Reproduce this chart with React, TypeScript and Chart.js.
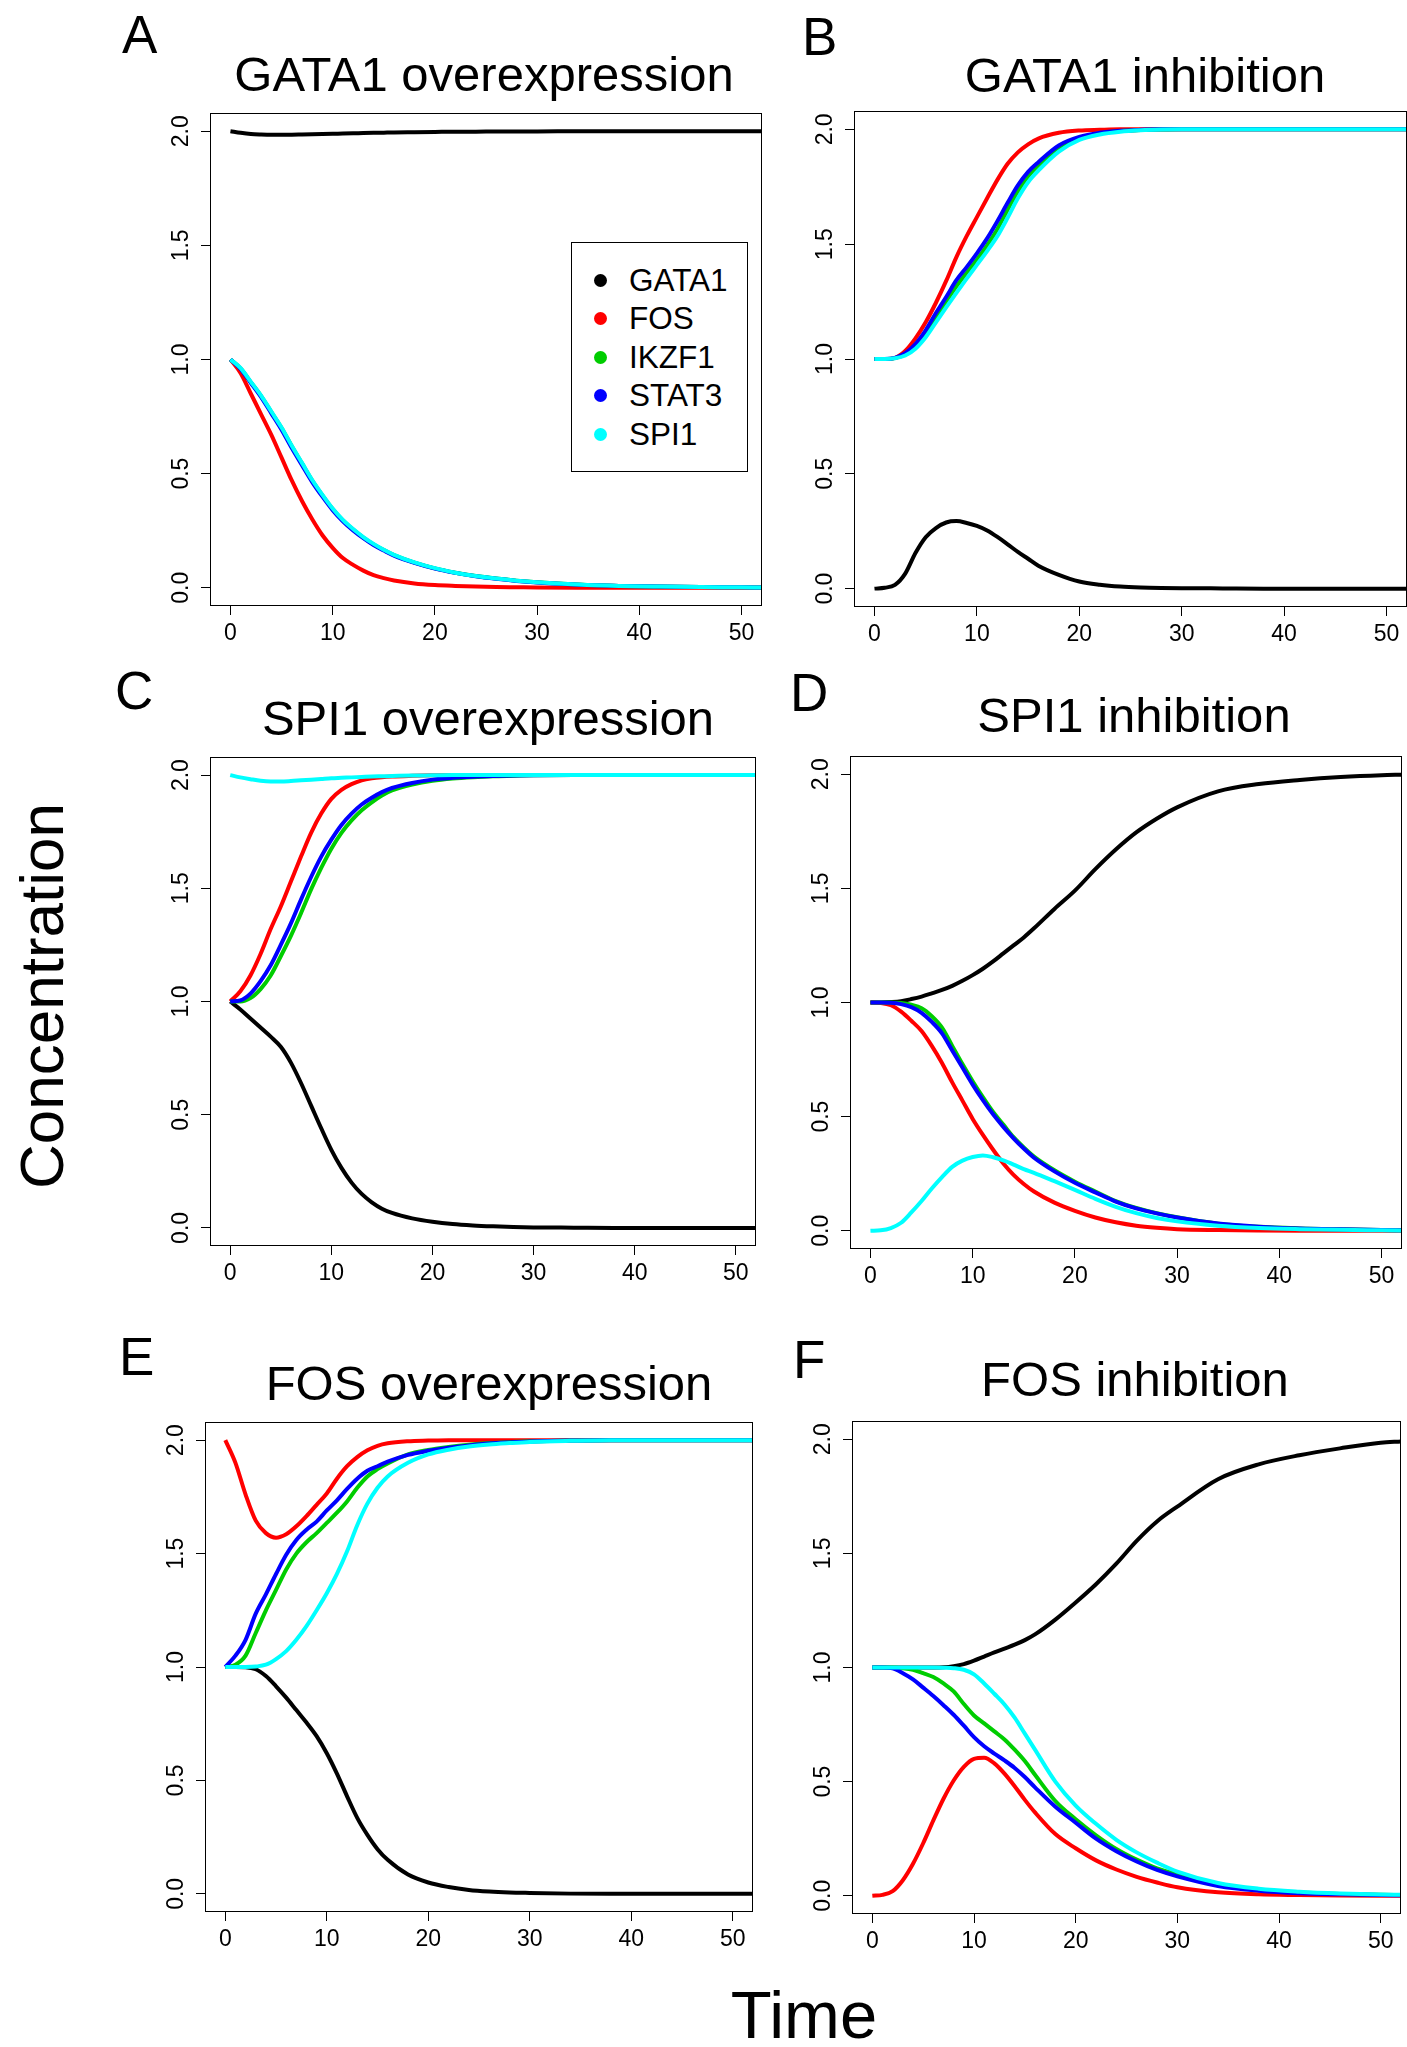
import React, { useEffect, useRef } from "react";
import { Chart, registerables } from "chart.js";

Chart.register(...registerables);

const FONT = '"Liberation Sans", Arial, Helvetica, sans-serif';

// ---------- data ----------
const timePoints = [0, 1, 2, 3, 4, 5, 6, 7, 8, 9, 10, 11, 12, 13, 14, 15, 16, 18, 20, 22, 24, 26, 28, 30, 34, 38, 42, 46, 50, 52];
const geneNames = ["GATA1", "FOS", "IKZF1", "STAT3", "SPI1"];
const geneColors = ["#000000", "#FF0000", "#00CD00", "#0000FF", "#00FFFF"];
const xTicks = [0, 10, 20, 30, 40, 50];
const xTickLabels = ["0", "10", "20", "30", "40", "50"];
const yTicks = [0, 0.5, 1, 1.5, 2];
const yTickLabels = ["0.0", "0.5", "1.0", "1.5", "2.0"];

// A: GATA1 overexpression
const aGATA1 = [2.0, 1.993, 1.988, 1.986, 1.985, 1.985, 1.985, 1.986, 1.987, 1.988, 1.989, 1.99, 1.991, 1.992, 1.993, 1.994, 1.995, 1.996, 1.997, 1.998, 1.998, 1.999, 1.999, 1.999, 2, 2, 2, 2, 2, 2];
const aFOS = [1.0, 0.94, 0.85, 0.76, 0.67, 0.57, 0.47, 0.38, 0.3, 0.23, 0.175, 0.13, 0.1, 0.075, 0.055, 0.042, 0.032, 0.019, 0.012, 0.008, 0.005, 0.003, 0.002, 0.001, 0, 0, 0, 0, 0, 0];
const aIKZF1 = [1.0, 0.96, 0.9, 0.84, 0.77, 0.7, 0.62, 0.545, 0.47, 0.405, 0.345, 0.295, 0.255, 0.22, 0.19, 0.165, 0.143, 0.11, 0.085, 0.066, 0.051, 0.04, 0.031, 0.024, 0.014, 0.008, 0.005, 0.003, 0.002, 0.001];
const aSTAT3 = [1.0, 0.958, 0.897, 0.835, 0.764, 0.692, 0.612, 0.537, 0.463, 0.399, 0.34, 0.291, 0.251, 0.217, 0.187, 0.163, 0.141, 0.109, 0.084, 0.065, 0.05, 0.039, 0.03, 0.023, 0.013, 0.008, 0.005, 0.003, 0.002, 0.001];
const aSPI1 = [1.0, 0.962, 0.902, 0.842, 0.772, 0.702, 0.622, 0.547, 0.472, 0.407, 0.347, 0.297, 0.257, 0.222, 0.192, 0.166, 0.144, 0.111, 0.086, 0.066, 0.051, 0.04, 0.031, 0.024, 0.014, 0.008, 0.005, 0.003, 0.002, 0.001];

// B: GATA1 inhibition
const bGATA1 = [0, 0.004, 0.016, 0.065, 0.155, 0.224, 0.264, 0.288, 0.294, 0.286, 0.273, 0.253, 0.225, 0.193, 0.16, 0.13, 0.1, 0.06, 0.031, 0.017, 0.009, 0.005, 0.003, 0.002, 0.001, 0, 0, 0, 0, 0];
const bFOS = [1, 1, 1.005, 1.035, 1.09, 1.16, 1.245, 1.34, 1.444, 1.535, 1.618, 1.7, 1.78, 1.85, 1.9, 1.935, 1.96, 1.985, 1.995, 1.998, 2, 2, 2, 2, 2, 2, 2, 2, 2, 2];
const bIKZF1 = [1, 1, 1.004, 1.02, 1.055, 1.11, 1.18, 1.25, 1.316, 1.375, 1.432, 1.495, 1.565, 1.65, 1.73, 1.795, 1.843, 1.918, 1.96, 1.982, 1.993, 1.997, 1.999, 2, 2, 2, 2, 2, 2, 2];
const bSTAT3 = [1, 1, 1.005, 1.025, 1.065, 1.125, 1.2, 1.27, 1.343, 1.4, 1.46, 1.525, 1.6, 1.68, 1.756, 1.815, 1.857, 1.93, 1.967, 1.985, 1.994, 1.998, 2, 2, 2, 2, 2, 2, 2, 2];
const bSPI1 = [1, 1, 1.003, 1.015, 1.045, 1.095, 1.16, 1.225, 1.288, 1.35, 1.41, 1.47, 1.535, 1.615, 1.7, 1.77, 1.82, 1.903, 1.954, 1.978, 1.99, 1.996, 1.999, 2, 2, 2, 2, 2, 2, 2];

// C: SPI1 overexpression
const cGATA1 = [1, 0.965, 0.925, 0.885, 0.845, 0.8, 0.73, 0.64, 0.54, 0.44, 0.345, 0.265, 0.2, 0.15, 0.113, 0.085, 0.066, 0.042, 0.027, 0.017, 0.011, 0.007, 0.004, 0.002, 0.001, 0, 0, 0, 0, 0];
const cFOS = [1, 1.045, 1.115, 1.21, 1.32, 1.42, 1.53, 1.64, 1.745, 1.83, 1.895, 1.935, 1.96, 1.977, 1.986, 1.991, 1.994, 1.997, 1.999, 2, 2, 2, 2, 2, 2, 2, 2, 2, 2, 2];
const cIKZF1 = [1, 1, 1.015, 1.055, 1.115, 1.2, 1.29, 1.39, 1.495, 1.59, 1.675, 1.745, 1.8, 1.845, 1.88, 1.91, 1.932, 1.958, 1.975, 1.985, 1.991, 1.995, 1.997, 1.999, 2, 2, 2, 2, 2, 2];
const cSTAT3 = [1, 1.005, 1.035, 1.09, 1.16, 1.25, 1.345, 1.45, 1.55, 1.64, 1.715, 1.78, 1.83, 1.87, 1.9, 1.925, 1.943, 1.965, 1.98, 1.988, 1.993, 1.996, 1.998, 1.999, 2, 2, 2, 2, 2, 2];
const cSPI1 = [2, 1.99, 1.982, 1.975, 1.972, 1.972, 1.974, 1.977, 1.98, 1.983, 1.986, 1.988, 1.99, 1.992, 1.994, 1.995, 1.996, 1.998, 1.999, 2, 2, 2, 2, 2, 2, 2, 2, 2, 2, 2];

// D: SPI1 inhibition
const dGATA1 = [1, 1, 1.002, 1.006, 1.015, 1.026, 1.04, 1.055, 1.073, 1.095, 1.12, 1.148, 1.18, 1.215, 1.25, 1.285, 1.325, 1.41, 1.49, 1.584, 1.67, 1.745, 1.805, 1.855, 1.925, 1.957, 1.975, 1.988, 1.996, 1.998];
const dFOS = [1, 0.998, 0.988, 0.96, 0.92, 0.875, 0.81, 0.735, 0.65, 0.57, 0.49, 0.42, 0.355, 0.295, 0.245, 0.205, 0.172, 0.123, 0.087, 0.058, 0.037, 0.022, 0.013, 0.007, 0.003, 0.001, 0, 0, 0, 0];
const dIKZF1 = [1, 1, 1, 0.998, 0.99, 0.975, 0.94, 0.89, 0.81, 0.73, 0.655, 0.585, 0.52, 0.465, 0.41, 0.365, 0.325, 0.265, 0.215, 0.172, 0.13, 0.1, 0.077, 0.059, 0.031, 0.017, 0.01, 0.006, 0.003, 0.002];
const dSTAT3 = [1, 1, 0.999, 0.993, 0.98, 0.955, 0.915, 0.865, 0.79, 0.715, 0.64, 0.572, 0.51, 0.455, 0.405, 0.36, 0.32, 0.26, 0.21, 0.168, 0.128, 0.098, 0.076, 0.058, 0.032, 0.018, 0.01, 0.006, 0.003, 0.002];
const dSPI1 = [0, 0.002, 0.012, 0.035, 0.08, 0.13, 0.185, 0.235, 0.28, 0.307, 0.323, 0.33, 0.322, 0.308, 0.29, 0.27, 0.254, 0.217, 0.179, 0.14, 0.105, 0.077, 0.056, 0.041, 0.022, 0.012, 0.007, 0.004, 0.002, 0.001];

// E: FOS overexpression
const eGATA1 = [1, 1, 0.999, 0.99, 0.96, 0.915, 0.865, 0.81, 0.755, 0.695, 0.62, 0.53, 0.43, 0.335, 0.26, 0.197, 0.15, 0.085, 0.05, 0.03, 0.017, 0.01, 0.006, 0.004, 0.001, 0, 0, 0, 0, 0];
const eFOS = [2, 1.9, 1.76, 1.645, 1.59, 1.57, 1.585, 1.62, 1.665, 1.715, 1.765, 1.83, 1.885, 1.925, 1.955, 1.975, 1.986, 1.995, 1.998, 2, 2, 2, 2, 2, 2, 2, 2, 2, 2, 2];
const eIKZF1 = [1, 1.01, 1.05, 1.15, 1.25, 1.34, 1.43, 1.5, 1.55, 1.59, 1.635, 1.68, 1.73, 1.79, 1.84, 1.872, 1.897, 1.937, 1.957, 1.97, 1.98, 1.987, 1.991, 1.995, 1.998, 2, 2, 2, 2, 2];
const eSTAT3 = [1, 1.05, 1.12, 1.235, 1.32, 1.41, 1.495, 1.56, 1.605, 1.641, 1.69, 1.735, 1.785, 1.83, 1.865, 1.885, 1.905, 1.935, 1.953, 1.967, 1.977, 1.985, 1.99, 1.994, 1.998, 2, 2, 2, 2, 2];
const eSPI1 = [1, 1, 1, 1.002, 1.01, 1.035, 1.07, 1.12, 1.18, 1.25, 1.325, 1.41, 1.51, 1.625, 1.72, 1.79, 1.84, 1.9, 1.937, 1.958, 1.972, 1.981, 1.987, 1.992, 1.997, 2, 2, 2, 2, 2];

// F: FOS inhibition
const fGATA1 = [1, 1, 1, 1, 1, 1, 1, 1.001, 1.006, 1.015, 1.03, 1.048, 1.066, 1.083, 1.1, 1.12, 1.145, 1.21, 1.285, 1.365, 1.455, 1.555, 1.64, 1.705, 1.825, 1.89, 1.93, 1.96, 1.985, 1.99];
const fFOS = [0, 0.004, 0.02, 0.068, 0.14, 0.23, 0.33, 0.425, 0.505, 0.565, 0.6, 0.605, 0.58, 0.535, 0.48, 0.42, 0.365, 0.27, 0.208, 0.155, 0.115, 0.083, 0.058, 0.037, 0.015, 0.006, 0.003, 0.001, 0, 0];
const fIKZF1 = [1, 1, 1, 0.997, 0.99, 0.975, 0.958, 0.93, 0.895, 0.84, 0.79, 0.755, 0.72, 0.685, 0.64, 0.59, 0.53, 0.415, 0.335, 0.265, 0.205, 0.158, 0.12, 0.094, 0.05, 0.026, 0.014, 0.008, 0.004, 0.003];
const fSTAT3 = [1, 1, 0.996, 0.975, 0.948, 0.912, 0.875, 0.835, 0.793, 0.745, 0.695, 0.655, 0.623, 0.593, 0.56, 0.52, 0.475, 0.39, 0.32, 0.25, 0.195, 0.15, 0.113, 0.085, 0.043, 0.022, 0.011, 0.006, 0.003, 0.002];
const fSPI1 = [1, 1, 1, 1, 1, 1, 1, 0.999, 0.997, 0.99, 0.97, 0.93, 0.885, 0.838, 0.78, 0.71, 0.64, 0.5, 0.395, 0.315, 0.245, 0.19, 0.145, 0.106, 0.056, 0.031, 0.018, 0.01, 0.005, 0.004];

// ---------- layout (page coordinates) ----------
type Box = { L: number; T: number; R: number; B: number };
type PanelDef = {
  letter: string;
  title: string;
  series: number[][];
  box: Box;
  titleX: number;
  titleBase: number;
  letterX: number;
  letterBase: number;
};

const panels: PanelDef[] = [
  { letter: "A", title: "GATA1 overexpression", series: [aGATA1, aFOS, aIKZF1, aSTAT3, aSPI1], box: { L: 210, T: 113, R: 762, B: 606 }, titleX: 484, titleBase: 91, letterX: 122, letterBase: 52.5 },
  { letter: "B", title: "GATA1 inhibition", series: [bGATA1, bFOS, bIKZF1, bSTAT3, bSPI1], box: { L: 854, T: 111, R: 1407, B: 607 }, titleX: 1145, titleBase: 92.5, letterX: 802, letterBase: 55 },
  { letter: "C", title: "SPI1 overexpression", series: [cGATA1, cFOS, cIKZF1, cSTAT3, cSPI1], box: { L: 210, T: 757, R: 756, B: 1246 }, titleX: 488, titleBase: 735, letterX: 115, letterBase: 709 },
  { letter: "D", title: "SPI1 inhibition", series: [dGATA1, dFOS, dIKZF1, dSTAT3, dSPI1], box: { L: 850, T: 756, R: 1402, B: 1249 }, titleX: 1134, titleBase: 732, letterX: 790, letterBase: 711 },
  { letter: "E", title: "FOS overexpression", series: [eGATA1, eFOS, eIKZF1, eSTAT3, eSPI1], box: { L: 205, T: 1422, R: 753, B: 1912 }, titleX: 489, titleBase: 1400, letterX: 119, letterBase: 1374.5 },
  { letter: "F", title: "FOS inhibition", series: [fGATA1, fFOS, fIKZF1, fSTAT3, fSPI1], box: { L: 852, T: 1421, R: 1401, B: 1914 }, titleX: 1135, titleBase: 1396, letterX: 793, letterBase: 1378 },
];

const ML = 70;
const MT = 10;
const MR = 10;
const MB = 50;
const TICK_FONT = 23;
const TITLE_FONT = 49;

const rBoxPlugin = {
  id: "rBox",
  afterDraw(chart: any) {
    const { ctx, chartArea: a } = chart;
    ctx.save();
    ctx.strokeStyle = "#000";
    ctx.lineWidth = 1;
    const l = Math.round(a.left) + 0.5;
    const t = Math.round(a.top) + 0.5;
    const r = Math.round(a.right) - 0.5;
    const b = Math.round(a.bottom) - 0.5;
    ctx.strokeRect(l, t, r - l, b - t);
    const ys = chart.scales.y;
    ctx.fillStyle = "#000";
    ctx.font = `${TICK_FONT}px ${FONT}`;
    ctx.textAlign = "center";
    ctx.textBaseline = "alphabetic";
    yTicks.forEach((v, i) => {
      const py = ys.getPixelForValue(v);
      ctx.save();
      ctx.translate(a.left - 22, py);
      ctx.rotate(-Math.PI / 2);
      ctx.fillText(yTickLabels[i], 0, 0);
      ctx.restore();
    });
    ctx.restore();
  },
};

function PanelChart({ def }: { def: PanelDef }) {
  const ref = useRef<HTMLCanvasElement | null>(null);
  const { L, T, R, B } = def.box;
  const width = R - L + ML + MR;
  const height = B - T + MT + MB;

  useEffect(() => {
    if (!ref.current) return;
    const gridOpts = {
      display: true,
      drawOnChartArea: false,
      drawTicks: true,
      tickLength: 9,
      color: "#000",
      lineWidth: 1,
    };
    const chart = new Chart(ref.current, {
      type: "line",
      data: {
        datasets: geneNames.map((name, i) => ({
          label: name,
          data: timePoints.map((t, j) => ({ x: t, y: def.series[i][j] })),
          borderColor: geneColors[i],
          backgroundColor: geneColors[i],
          borderWidth: 4,
          pointRadius: 0,
          cubicInterpolationMode: "monotone" as const,
          fill: false,
          clip: 0,
          order: geneNames.length - 1 - i,
        })),
      },
      options: {
        responsive: false,
        animation: false,
        events: [],
        layout: { padding: { top: MT, right: MR, left: 0, bottom: 0 } },
        plugins: {
          legend: { display: false },
          title: { display: false },
          tooltip: { enabled: false },
        },
        scales: {
          x: {
            type: "linear",
            position: "bottom",
            min: -2,
            max: 52,
            afterBuildTicks: (s: any) => {
              s.ticks = xTicks.map((v) => ({ value: v }));
            },
            afterFit: (s: any) => {
              s.height = MB;
            },
            ticks: {
              autoSkip: false,
              maxRotation: 0,
              minRotation: 0,
              padding: 5,
              color: "#000",
              font: { size: TICK_FONT, family: FONT },
              callback: (_v: any, idx: number) => xTickLabels[idx],
            },
            grid: gridOpts,
            border: { display: false },
          },
          y: {
            type: "linear",
            position: "left",
            min: -0.08,
            max: 2.08,
            afterBuildTicks: (s: any) => {
              s.ticks = yTicks.map((v) => ({ value: v }));
            },
            afterFit: (s: any) => {
              s.width = ML;
            },
            ticks: { display: false },
            grid: gridOpts,
            border: { display: false },
          },
        },
      } as any,
      plugins: [rBoxPlugin],
    });
    return () => chart.destroy();
  }, []);

  return (
    <canvas
      ref={ref}
      width={width}
      height={height}
      style={{ position: "absolute", left: L - ML, top: T - MT, width, height }}
    />
  );
}

function Txt({ x, base, size, text, center }: { x: number; base: number; size: number; text: string; center?: boolean }) {
  return (
    <div
      style={{
        position: "absolute",
        left: x,
        top: base - 0.8465 * size,
        fontSize: size,
        lineHeight: `${size}px`,
        whiteSpace: "nowrap",
        color: "#000",
        transform: center ? "translateX(-50%)" : undefined,
      }}
    >
      {text}
    </div>
  );
}

const legendBox = { left: 571, top: 242, width: 177, height: 230 };
const legendRows = [280, 318.5, 357, 395.5, 434];
const legendDotX = 600.5;
const legendTextX = 629;
const LEGEND_FONT = 31.5;

export default function App() {
  return (
    <div
      style={{
        position: "absolute",
        left: 0,
        top: 0,
        width: 1407,
        height: 2047,
        overflow: "hidden",
        background: "#fff",
        fontFamily: FONT,
      }}
    >
      {panels.map((p) => (
        <React.Fragment key={p.letter}>
          <PanelChart def={p} />
          <Txt x={p.titleX} base={p.titleBase} size={TITLE_FONT} text={p.title} center />
          <Txt x={p.letterX} base={p.letterBase} size={53} text={p.letter} />
        </React.Fragment>
      ))}

      {/* legend of panel A */}
      <div
        style={{
          position: "absolute",
          left: legendBox.left,
          top: legendBox.top,
          width: legendBox.width,
          height: legendBox.height,
          border: "1.5px solid #000",
          boxSizing: "border-box",
          background: "#fff",
        }}
      />
      {geneNames.map((name, i) => (
        <React.Fragment key={name}>
          <div
            style={{
              position: "absolute",
              left: legendDotX - 6.5,
              top: legendRows[i] - 6.5,
              width: 13,
              height: 13,
              borderRadius: "50%",
              background: geneColors[i],
            }}
          />
          <Txt x={legendTextX} base={legendRows[i] + 11.2} size={LEGEND_FONT} text={name} />
        </React.Fragment>
      ))}

      {/* axis labels */}
      <div
        style={{
          position: "absolute",
          left: 41.5,
          top: 996,
          fontSize: 62,
          lineHeight: "62px",
          whiteSpace: "nowrap",
          color: "#000",
          transform: "translate(-50%, -50%) rotate(-90deg)",
        }}
      >
        Concentration
      </div>
      <Txt x={804} base={2038} size={67} text="Time" center />
    </div>
  );
}
